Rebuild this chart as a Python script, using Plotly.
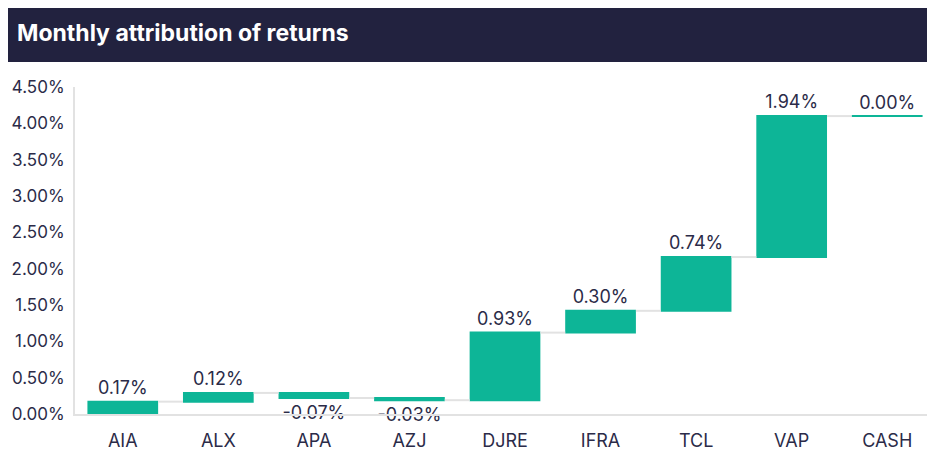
import plotly.graph_objects as go
from itertools import accumulate

categories = ["AIA", "ALX", "APA", "AZJ", "DJRE", "IFRA", "TCL", "VAP", "CASH"]
values = [0.17, 0.12, -0.07, -0.03, 0.93, 0.30, 0.74, 1.94, 0.00]
y_ticks = [0.0, 0.5, 1.0, 1.5, 2.0, 2.5, 3.0, 3.5, 4.0, 4.5]
title_text = "Monthly attribution of returns"

TEAL = "#0db597"
NAVY = "#22223f"
TXT = "#2b2b48"
FONT = "Inter, 'Noto Sans', sans-serif"
BAR_W = 0.74

labels = [f"{v:.2f}%" for v in values]
tick_text = [f"{v:.2f}%" for v in y_ticks]
running = list(accumulate(values))

bar_style = dict(marker=dict(color=TEAL))

fig = go.Figure(go.Waterfall(
    x=categories,
    y=values,
    measure=["relative"] * len(values),
    text=labels,
    textposition="outside",
    texttemplate="%{text}",
    textfont=dict(family=FONT, size=18, color=TXT),
    increasing=bar_style,
    decreasing=bar_style,
    totals=bar_style,
    connector=dict(line=dict(color="#e2e2e2", width=2)),
    width=[BAR_W] * len(values),
    cliponaxis=False,
    hoverinfo="skip",
))

shapes = [dict(
    type="rect", xref="paper", yref="paper",
    x0=-0.0779, x1=1.0, y0=1.0765, y1=1.25,
    fillcolor=NAVY, line=dict(width=0), layer="below",
)]
# zero-height bars are drawn as a thin teal line at the running level
for i, (v, r) in enumerate(zip(values, running)):
    if v == 0:
        shapes.append(dict(
            type="line", xref="x", yref="y",
            x0=i - BAR_W / 2, x1=i + BAR_W / 2, y0=r, y1=r,
            line=dict(color=TEAL, width=2),
        ))

fig.update_layout(
    width=927, height=442,
    margin=dict(l=67, r=0, t=79, b=36),
    paper_bgcolor="white", plot_bgcolor="white",
    showlegend=False,
    font=dict(family=FONT, size=17, color=TXT),
    xaxis=dict(
        showgrid=False, showline=True, linecolor="#e2e2e2", linewidth=2,
        ticks="", ticklabelstandoff=9,
        tickfont=dict(family=FONT, size=18, color=TXT),
        fixedrange=True,
    ),
    yaxis=dict(
        range=[0, 4.5], tickvals=y_ticks, ticktext=tick_text,
        showgrid=False, zeroline=False, showline=True, linecolor="#e2e2e2",
        linewidth=2, ticks="", ticklabelstandoff=5,
        tickfont=dict(family=FONT, size=17, color=TXT),
        fixedrange=True,
    ),
    shapes=shapes,
    annotations=[dict(
        text="<b>" + title_text + "</b>", xref="paper", yref="paper",
        x=-0.0698, y=1.165, xanchor="left", yanchor="middle",
        showarrow=False, font=dict(family=FONT, size=23, color="white"),
    )],
)

fig.write_html("out.html")
